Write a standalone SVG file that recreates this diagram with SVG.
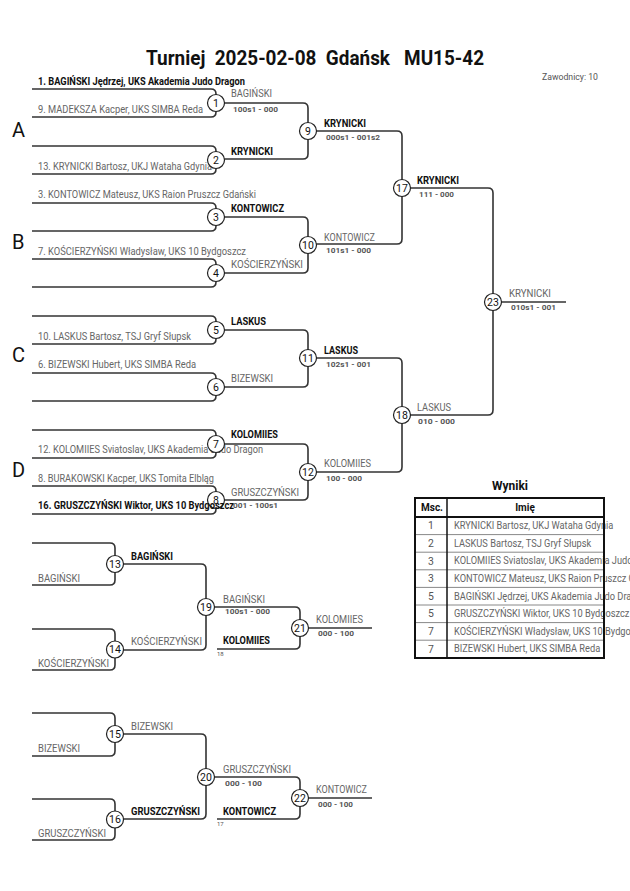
<svg xmlns="http://www.w3.org/2000/svg" width="630" height="891" viewBox="0 0 630 891">
<style>
text{font-family:Roboto,"Liberation Sans",sans-serif}
.ln{fill:none;stroke:#333;stroke-width:1.6}
.c{fill:#fff;stroke:#222;stroke-width:1.2}
.n{font-size:10.5px;text-anchor:middle;fill:#111}
.nm{font-size:10.4px;fill:#666}
.b{font-weight:bold;fill:#111}
.sc{font-size:8px;font-weight:bold;fill:#555}
.tiny{font-size:6px;fill:#555}
.grp{font-size:20px;fill:#111}
.tb{fill:none;stroke:#111;stroke-width:2}
.rl{stroke:#888;stroke-width:1}
</style>
<rect width="630" height="891" fill="#fff"/>
<text x="146" y="65" font-size="21" font-weight="bold" fill="#111" style="white-space:pre" textLength="338" lengthAdjust="spacingAndGlyphs">Turniej  2025-02-08  Gdańsk   MU15-42</text>
<text x="542" y="80" font-size="9.5" fill="#555" textLength="56" lengthAdjust="spacingAndGlyphs">Zawodnicy: 10</text>
<text class="grp" x="12" y="137">A</text>
<text class="grp" x="12" y="249">B</text>
<text class="grp" x="12" y="362">C</text>
<text class="grp" x="12" y="477">D</text>

<g id="connectors">
<path class="ln" d="M32,89 H211 Q216,89 216,94 V112 Q216,117 211,117 H32"/>
<path class="ln" d="M32,146 H211 Q216,146 216,151 V169 Q216,174 211,174 H32"/>
<path class="ln" d="M32,203 H211 Q216,203 216,208 V226 Q216,231 211,231 H32"/>
<path class="ln" d="M32,259 H211 Q216,259 216,264 V282 Q216,287 211,287 H32"/>
<path class="ln" d="M32,316 H211 Q216,316 216,321 V339 Q216,344 211,344 H32"/>
<path class="ln" d="M32,373 H211 Q216,373 216,378 V396 Q216,401 211,401 H32"/>
<path class="ln" d="M32,430 H211 Q216,430 216,435 V453 Q216,458 211,458 H32"/>
<path class="ln" d="M32,486 H211 Q216,486 216,491 V509 Q216,514 211,514 H32"/>
<path class="ln" d="M216,103 H303 Q308,103 308,108 V154 Q308,159 303,159 H216"/>
<path class="ln" d="M216,217 H303 Q308,217 308,222 V268 Q308,273 303,273 H216"/>
<path class="ln" d="M216,330 H303 Q308,330 308,335 V382 Q308,387 303,387 H216"/>
<path class="ln" d="M216,444 H303 Q308,444 308,449 V495 Q308,500 303,500 H216"/>
<path class="ln" d="M308,131 H397 Q402,131 402,136 V239 Q402,244 397,244 H308"/>
<path class="ln" d="M308,358 H397 Q402,358 402,363 V467 Q402,472 397,472 H308"/>
<path class="ln" d="M402,188 H488 Q493,188 493,193 V410 Q493,415 488,415 H402"/>
<path class="ln" d="M493,302 H566"/>
<path class="ln" d="M32,543 H110 Q115,543 115,548 V580 Q115,585 110,585 H32"/>
<path class="ln" d="M32,629 H110 Q115,629 115,634 V665 Q115,670 110,670 H32"/>
<path class="ln" d="M115,564 H201 Q206,564 206,569 V645 Q206,650 201,650 H115"/>
<path class="ln" d="M206,607 H295 Q300,607 300,612 V644 Q300,649 295,649 H217"/>
<path class="ln" d="M300,628 H372"/>
<path class="ln" d="M32,713 H110 Q115,713 115,718 V751 Q115,756 110,756 H32"/>
<path class="ln" d="M32,799 H110 Q115,799 115,804 V835 Q115,840 110,840 H32"/>
<path class="ln" d="M115,734 H201 Q206,734 206,739 V814 Q206,819 201,819 H115"/>
<path class="ln" d="M206,777 H295 Q300,777 300,782 V814 Q300,819 295,819 H217"/>
<path class="ln" d="M300,798 H372"/>
</g>

<g id="players">
<text class="nm b" x="38" y="85" textLength="207" lengthAdjust="spacingAndGlyphs">1. BAGIŃSKI Jędrzej, UKS Akademia Judo Dragon</text>
<text class="nm" x="38" y="113" textLength="165" lengthAdjust="spacingAndGlyphs">9. MADEKSZA Kacper, UKS SIMBA Reda</text>
<text class="nm" x="38" y="170" textLength="174" lengthAdjust="spacingAndGlyphs">13. KRYNICKI Bartosz, UKJ Wataha Gdynia</text>
<text class="nm" x="38" y="198" textLength="218" lengthAdjust="spacingAndGlyphs">3. KONTOWICZ Mateusz, UKS Raion Pruszcz Gdański</text>
<text class="nm" x="38" y="255" textLength="208" lengthAdjust="spacingAndGlyphs">7. KOŚCIERZYŃSKI Władysław, UKS 10 Bydgoszcz</text>
<text class="nm" x="38" y="340" textLength="153" lengthAdjust="spacingAndGlyphs">10. LASKUS Bartosz, TSJ Gryf Słupsk</text>
<text class="nm" x="38" y="368" textLength="158" lengthAdjust="spacingAndGlyphs">6. BIZEWSKI Hubert, UKS SIMBA Reda</text>
<text class="nm" x="38" y="453" textLength="225" lengthAdjust="spacingAndGlyphs">12. KOLOMIIES Sviatoslav, UKS Akademia Judo Dragon</text>
<text class="nm" x="38" y="482" textLength="176" lengthAdjust="spacingAndGlyphs">8. BURAKOWSKI Kacper, UKS Tomita Elbląg</text>
</g>

<g id="m1"><circle class="c" cx="216" cy="103" r="8.5"/><text class="n" x="216" y="106.7">1</text>
<text class="nm" x="231" y="97" textLength="41" lengthAdjust="spacingAndGlyphs">BAGIŃSKI</text>
<text class="sc" x="233" y="112" textLength="45" lengthAdjust="spacingAndGlyphs">100s1 - 000</text></g>
<g id="m2"><circle class="c" cx="216" cy="160" r="8.5"/><text class="n" x="216" y="163.7">2</text>
<text class="nm b" x="231" y="155" textLength="42" lengthAdjust="spacingAndGlyphs">KRYNICKI</text></g>
<g id="m3"><circle class="c" cx="216" cy="217" r="8.5"/><text class="n" x="216" y="220.7">3</text>
<text class="nm b" x="231" y="212" textLength="53" lengthAdjust="spacingAndGlyphs">KONTOWICZ</text></g>
<g id="m4"><circle class="c" cx="216" cy="273" r="8.5"/><text class="n" x="216" y="276.7">4</text>
<text class="nm" x="231" y="268" textLength="72" lengthAdjust="spacingAndGlyphs">KOŚCIERZYŃSKI</text></g>
<g id="m5"><circle class="c" cx="216" cy="330" r="8.5"/><text class="n" x="216" y="333.7">5</text>
<text class="nm b" x="231" y="325" textLength="35" lengthAdjust="spacingAndGlyphs">LASKUS</text></g>
<g id="m6"><circle class="c" cx="216" cy="387" r="8.5"/><text class="n" x="216" y="390.7">6</text>
<text class="nm" x="231" y="382" textLength="42" lengthAdjust="spacingAndGlyphs">BIZEWSKI</text></g>
<g id="m7"><circle class="c" cx="216" cy="444" r="8.5"/><text class="n" x="216" y="447.7">7</text>
<text class="nm b" x="231" y="438" textLength="47" lengthAdjust="spacingAndGlyphs">KOLOMIIES</text></g>
<g id="m8"><circle class="c" cx="216" cy="500" r="8.5"/><text class="n" x="216" y="503.7">8</text>
<text class="nm" x="231" y="496" textLength="68" lengthAdjust="spacingAndGlyphs">GRUSZCZYŃSKI</text>
<text class="sc" x="233" y="508" textLength="45" lengthAdjust="spacingAndGlyphs">001 - 100s1</text>
<text class="nm b" x="38" y="509" textLength="196" lengthAdjust="spacingAndGlyphs">16. GRUSZCZYŃSKI Wiktor, UKS 10 Bydgoszcz</text></g>

<g id="m9"><circle class="c" cx="308" cy="131" r="8.5"/><text class="n" x="308" y="134.7">9</text>
<text class="nm b" x="324" y="127" textLength="42" lengthAdjust="spacingAndGlyphs">KRYNICKI</text>
<text class="sc" x="326" y="140" textLength="54" lengthAdjust="spacingAndGlyphs">000s1 - 001s2</text></g>
<g id="m10"><circle class="c" cx="308" cy="245" r="8.5"/><text class="n" x="308" y="248.7">10</text>
<text class="nm" x="324" y="241" textLength="51" lengthAdjust="spacingAndGlyphs">KONTOWICZ</text>
<text class="sc" x="326" y="253" textLength="45" lengthAdjust="spacingAndGlyphs">101s1 - 000</text></g>
<g id="m11"><circle class="c" cx="308" cy="358" r="8.5"/><text class="n" x="308" y="361.7">11</text>
<text class="nm b" x="324" y="354" textLength="34" lengthAdjust="spacingAndGlyphs">LASKUS</text>
<text class="sc" x="326" y="367" textLength="45" lengthAdjust="spacingAndGlyphs">102s1 - 001</text></g>
<g id="m12"><circle class="c" cx="308" cy="472" r="8.5"/><text class="n" x="308" y="475.7">12</text>
<text class="nm" x="324" y="467" textLength="47" lengthAdjust="spacingAndGlyphs">KOLOMIIES</text>
<text class="sc" x="326" y="481" textLength="36" lengthAdjust="spacingAndGlyphs">100 - 000</text></g>
<g id="m17"><circle class="c" cx="402" cy="188" r="8.5"/><text class="n" x="402" y="191.7">17</text>
<text class="nm b" x="417" y="184" textLength="42" lengthAdjust="spacingAndGlyphs">KRYNICKI</text>
<text class="sc" x="419" y="197" textLength="35" lengthAdjust="spacingAndGlyphs">111 - 000</text></g>
<g id="m18"><circle class="c" cx="402" cy="415" r="8.5"/><text class="n" x="402" y="418.7">18</text>
<text class="nm" x="417" y="411" textLength="34" lengthAdjust="spacingAndGlyphs">LASKUS</text>
<text class="sc" x="418" y="424" textLength="37" lengthAdjust="spacingAndGlyphs">010 - 000</text></g>
<g id="m23"><circle class="c" cx="493" cy="302" r="8.5"/><text class="n" x="493" y="305.7">23</text>
<text class="nm" x="509" y="297" textLength="42" lengthAdjust="spacingAndGlyphs">KRYNICKI</text>
<text class="sc" x="511" y="310" textLength="45" lengthAdjust="spacingAndGlyphs">010s1 - 001</text></g>

<g id="m13"><circle class="c" cx="115" cy="564" r="8.5"/><text class="n" x="115" y="567.7">13</text>
<text class="nm" x="38" y="582" textLength="42" lengthAdjust="spacingAndGlyphs">BAGIŃSKI</text>
<text class="nm b" x="131" y="560" textLength="42" lengthAdjust="spacingAndGlyphs">BAGIŃSKI</text></g>
<g id="m14"><circle class="c" cx="115" cy="649.5" r="8.5"/><text class="n" x="115" y="653.2">14</text>
<text class="nm" x="38" y="667" textLength="71" lengthAdjust="spacingAndGlyphs">KOŚCIERZYŃSKI</text>
<text class="nm" x="131" y="645" textLength="71" lengthAdjust="spacingAndGlyphs">KOŚCIERZYŃSKI</text></g>
<g id="m19"><circle class="c" cx="206" cy="607" r="8.5"/><text class="n" x="206" y="610.7">19</text>
<text class="nm" x="223" y="603" textLength="42" lengthAdjust="spacingAndGlyphs">BAGIŃSKI</text>
<text class="sc" x="225" y="614" textLength="45" lengthAdjust="spacingAndGlyphs">100s1 - 000</text></g>
<g id="m21"><circle class="c" cx="300" cy="628" r="8.5"/><text class="n" x="300" y="631.7">21</text>
<text class="nm b" x="223" y="644" textLength="47" lengthAdjust="spacingAndGlyphs">KOLOMIIES</text>
<text class="tiny" x="217" y="656">18</text>
<text class="nm" x="316" y="623" textLength="47" lengthAdjust="spacingAndGlyphs">KOLOMIIES</text>
<text class="sc" x="318" y="636" textLength="36" lengthAdjust="spacingAndGlyphs">000 - 100</text></g>

<g id="m15"><circle class="c" cx="115" cy="734" r="8.5"/><text class="n" x="115" y="737.7">15</text>
<text class="nm" x="38" y="752" textLength="42" lengthAdjust="spacingAndGlyphs">BIZEWSKI</text>
<text class="nm" x="131" y="730" textLength="42" lengthAdjust="spacingAndGlyphs">BIZEWSKI</text></g>
<g id="m16"><circle class="c" cx="115" cy="819.5" r="8.5"/><text class="n" x="115" y="823.2">16</text>
<text class="nm" x="38" y="837" textLength="68" lengthAdjust="spacingAndGlyphs">GRUSZCZYŃSKI</text>
<text class="nm b" x="131" y="815" textLength="69" lengthAdjust="spacingAndGlyphs">GRUSZCZYŃSKI</text></g>
<g id="m20"><circle class="c" cx="206" cy="777" r="8.5"/><text class="n" x="206" y="780.7">20</text>
<text class="nm" x="223" y="773" textLength="68" lengthAdjust="spacingAndGlyphs">GRUSZCZYŃSKI</text>
<text class="sc" x="225" y="786" textLength="37" lengthAdjust="spacingAndGlyphs">000 - 100</text></g>
<g id="m22"><circle class="c" cx="300" cy="798" r="8.5"/><text class="n" x="300" y="801.7">22</text>
<text class="nm b" x="223" y="815" textLength="53" lengthAdjust="spacingAndGlyphs">KONTOWICZ</text>
<text class="tiny" x="217" y="826">17</text>
<text class="nm" x="316" y="793" textLength="51" lengthAdjust="spacingAndGlyphs">KONTOWICZ</text>
<text class="sc" x="318" y="807" textLength="35" lengthAdjust="spacingAndGlyphs">000 - 100</text></g>

<g id="results">
<text x="510" y="490" font-size="12" font-weight="bold" fill="#111" text-anchor="middle">Wyniki</text>
<g id="rows">
<line class="rl" x1="415" y1="534.6" x2="604" y2="534.6"/>
<line class="rl" x1="415" y1="552.2" x2="604" y2="552.2"/>
<line class="rl" x1="415" y1="569.8" x2="604" y2="569.8"/>
<line class="rl" x1="415" y1="587.4" x2="604" y2="587.4"/>
<line class="rl" x1="415" y1="605" x2="604" y2="605"/>
<line class="rl" x1="415" y1="622.6" x2="604" y2="622.6"/>
<line class="rl" x1="415" y1="640.2" x2="604" y2="640.2"/>
</g>
<g font-size="10.4" fill="#555" text-anchor="middle">
<text x="431" y="529.3">1</text><text x="431" y="546.9">2</text><text x="431" y="564.5">3</text><text x="431" y="582.1">3</text>
<text x="431" y="599.7">5</text><text x="431" y="617.3">5</text><text x="431" y="634.9">7</text><text x="431" y="652.5">7</text>
</g>
<g transform="translate(454 0) scale(0.89 1)" font-size="10.4" fill="#666">
<text x="0" y="529.3">KRYNICKI Bartosz, UKJ Wataha Gdynia</text>
<text x="0" y="546.9">LASKUS Bartosz, TSJ Gryf Słupsk</text>
<text x="0" y="564.5">KOLOMIIES Sviatoslav, UKS Akademia Judo Dragon</text>
<text x="0" y="582.1">KONTOWICZ Mateusz, UKS Raion Pruszcz Gdański</text>
<text x="0" y="599.7">BAGIŃSKI Jędrzej, UKS Akademia Judo Dragon</text>
<text x="0" y="617.3">GRUSZCZYŃSKI Wiktor, UKS 10 Bydgoszcz</text>
<text x="0" y="634.9">KOŚCIERZYŃSKI Władysław, UKS 10 Bydgoszcz</text>
<text x="0" y="652.5">BIZEWSKI Hubert, UKS SIMBA Reda</text>
</g>
<line x1="415" y1="517" x2="604" y2="517" stroke="#111" stroke-width="2"/>
<line x1="447" y1="498" x2="447" y2="658" stroke="#111" stroke-width="1.5"/>
<rect class="tb" x="415" y="498" width="189" height="160"/>
<text x="432" y="511" font-size="10" font-weight="bold" fill="#111" text-anchor="middle">Msc.</text>
<text x="525" y="511" font-size="10" font-weight="bold" fill="#111" text-anchor="middle">Imię</text>
</g>
</svg>
